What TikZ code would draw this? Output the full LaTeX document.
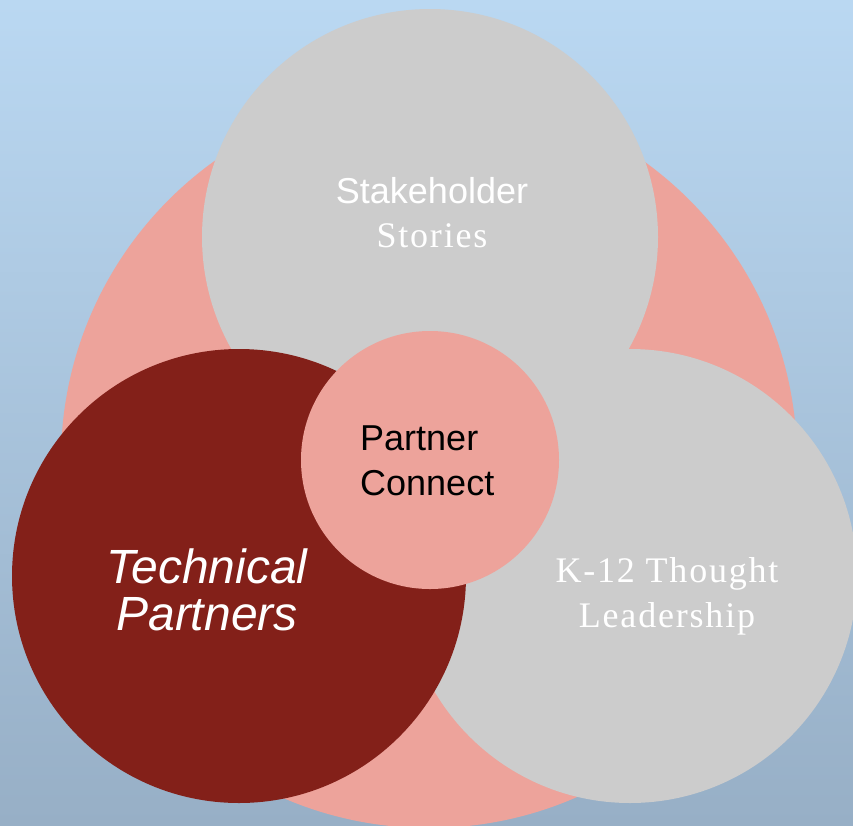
\documentclass[tikz,border=0pt]{standalone}
\usepackage{fontspec}
\setmainfont{Liberation Serif}
\setsansfont{Liberation Sans}
\newfontfamily\spacedserif[LetterSpace=5]{Liberation Serif}
\definecolor{skytop}{HTML}{BAD8F2}
\definecolor{skybottom}{HTML}{97AFC6}
\definecolor{rosepink}{HTML}{EDA39B}
\definecolor{softgray}{HTML}{CCCCCC}
\definecolor{darkred}{HTML}{832019}
\tikzset{
  disc/.style = {circle, inner sep = 0, draw = none},
  caption/.style = {inner sep = 0, anchor = base, align = center}
}
\begin{document}
\begin{tikzpicture}[x = 1pt, y = -1pt]
		\shade[top color = skytop, bottom color = skybottom] (0,0) rectangle (853,825);
		\useasboundingbox (0,0) rectangle (853,825);
		\node[disc, fill = rosepink, minimum size = 736pt] (outer) at (429,460) {};
		\node[disc, fill = softgray, minimum size = 456pt] (stake) at (430,237) {};
		\node[disc, fill = softgray, minimum size = 454pt] (thought) at (630,576) {};
		\node[disc, fill = darkred, minimum size = 454pt] (tech) at (239,576) {};
		\node[disc, fill = rosepink, minimum size = 258pt] (connect) at (430,460) {};
		% captions: anchor is the baseline of the last line
		\node[caption, text = white, font = \fontsize{36}{44}\selectfont] (staketext) at (432,247)
			{\sffamily Stakeholder\\\spacedserif Stories};
		\node[caption, text = white, font = \spacedserif\fontsize{36}{45}\selectfont] (thoughttext) at (667,627)
			{K-12 Thought\\Leadership};
		\node[caption, text = white, font = \sffamily\itshape\fontsize{48}{47}\selectfont] (techtext) at (207,630)
			{Technical\\Partners};
		\node[caption, anchor = base west, align = left, font = \sffamily\fontsize{36}{45}\selectfont] (connecttext) at (360,495)
			{Partner\\Connect};
\end{tikzpicture}
\end{document}
